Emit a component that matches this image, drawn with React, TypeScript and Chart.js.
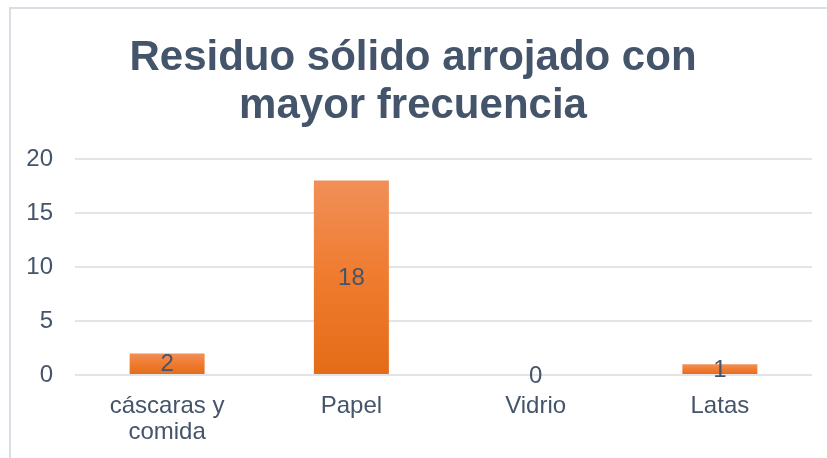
import React, { useEffect, useRef } from "react";
import { Chart, registerables } from "chart.js";

Chart.register(...registerables);

const titleLines = ["Residuo sólido arrojado con", "mayor frecuencia"];
const categories: (string | string[])[] = [["cáscaras y", "comida"], "Papel", "Vidrio", "Latas"];
const values = [2, 18, 0, 1];
const yTicks = [0, 5, 10, 15, 20];

const TEXT = "#44546A";
const FONT = "'Liberation Sans', Arial, sans-serif";

export default function App() {
  const ref = useRef<HTMLCanvasElement | null>(null);

  useEffect(() => {
    const canvas = ref.current;
    if (!canvas) return;

    const framePlugin = {
      id: "frame",
      beforeDraw(chart: any) {
        const c = chart.ctx;
        c.save();
        c.fillStyle = "#ffffff";
        c.fillRect(0, 0, chart.width, chart.height);
        c.strokeStyle = "#D9DEE5";
        c.lineWidth = 2;
        c.beginPath();
        c.moveTo(10, chart.height + 5);
        c.lineTo(10, 8);
        c.lineTo(chart.width + 5, 8);
        c.stroke();
        c.fillStyle = TEXT;
        c.font = `bold 42px ${FONT}`;
        c.textAlign = "center";
        c.textBaseline = "alphabetic";
        c.fillText(titleLines[0], 413, 70);
        c.fillText(titleLines[1], 413, 118);
        c.restore();
      },
    };

    const labelPlugin = {
      id: "barLabels",
      afterDatasetsDraw(chart: any) {
        const c = chart.ctx;
        const meta = chart.getDatasetMeta(0);
        c.save();
        c.fillStyle = TEXT;
        c.font = `24px ${FONT}`;
        c.textAlign = "center";
        c.textBaseline = "middle";
        meta.data.forEach((bar: any, i: number) => {
          const cy = (bar.y + bar.base) / 2;
          c.fillText(String(values[i]), bar.x, cy + 1);
        });
        c.restore();
      },
    };

    const chart = new Chart(canvas, {
      type: "bar",
      data: {
        labels: categories,
        datasets: [
          {
            data: values,
            backgroundColor: (ctx: any) => {
              const ch = ctx.chart;
              const y = ch.scales?.y;
              if (!ch.chartArea || !y) return "#ED7D31";
              const top = y.getPixelForValue(ctx.raw ?? 0);
              const bot = y.getPixelForValue(0);
              if (bot - top < 1) return "#ED7D31";
              const g = ch.ctx.createLinearGradient(0, top, 0, bot);
              g.addColorStop(0, "#F18F58");
              g.addColorStop(0.5, "#EF7B2E");
              g.addColorStop(1, "#E46C18");
              return g;
            },
            borderWidth: 0,
            categoryPercentage: 1,
            barPercentage: 0.407,
          },
        ],
      },
      options: {
        responsive: false,
        animation: false,
        layout: { padding: { left: 0, right: 15, top: 159, bottom: 0 } },
        plugins: {
          legend: { display: false },
          title: { display: false },
          tooltip: { enabled: false },
        },
        scales: {
          x: {
            grid: { display: false, drawTicks: false },
            border: { display: false },
            ticks: {
              color: TEXT,
              font: { family: FONT, size: 24, lineHeight: 1.1 },
              padding: 18,
              maxRotation: 0,
              autoSkip: false,
            },
            afterFit: (s: any) => {
              s.height = 83;
            },
          },
          y: {
            min: 0,
            max: 20,
            afterBuildTicks: (s: any) => {
              s.ticks = yTicks.map((v) => ({ value: v }));
            },
            grid: { color: "#E1E5EA", lineWidth: 2, drawTicks: false },
            border: { display: false },
            ticks: {
              color: TEXT,
              font: { family: FONT, size: 24 },
              padding: 22,
            },
            afterFit: (s: any) => {
              s.width = 75;
            },
          },
        },
      },
      plugins: [framePlugin, labelPlugin],
    });

    return () => chart.destroy();
  }, []);

  return (
    <div style={{ position: "fixed", left: 0, top: 0, width: 827, height: 458, background: "#fff" }}>
      <canvas ref={ref} width={827} height={458} style={{ width: 827, height: 458, display: "block" }} />
    </div>
  );
}
